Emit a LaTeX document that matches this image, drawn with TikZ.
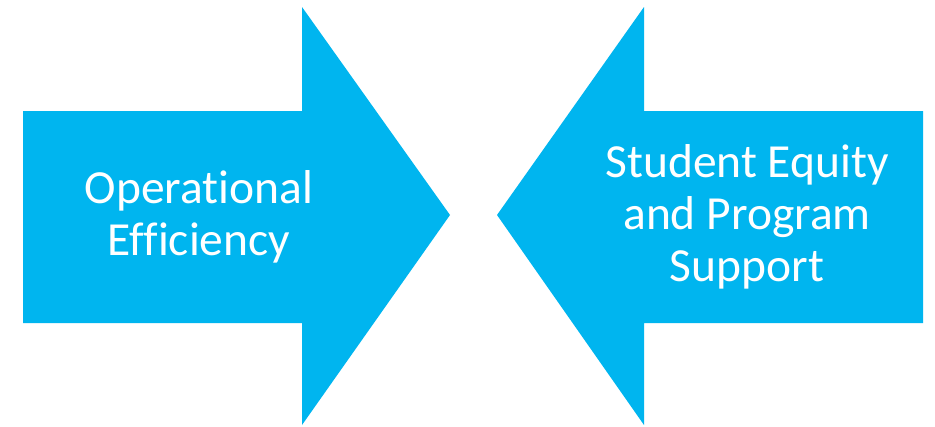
\documentclass[tikz,border=0pt]{standalone}
\usepackage{fontspec}
\setmainfont[Ligatures=CommonOff]{Carlito}
\definecolor{arrowblue}{HTML}{00B5EF}
\begin{document}
\begin{tikzpicture}[x=1pt,y=-1pt,
  arrowshape/.style={fill=arrowblue,draw=none},
  label/.style={text=white,font=\fontsize{47.5}{52}\selectfont,align=center,inner sep=0pt}]
\useasboundingbox (0,0) rectangle (935,426);
\fill[white] (0,0) rectangle (935,426);
\path[arrowshape] (23,111) -- (302,111) -- (302,7) -- (450,215) -- (302,425) -- (302,323) -- (23,323) -- cycle;
\path[arrowshape] (923,111) -- (644,111) -- (644,7) -- (497,215) -- (644,425) -- (644,323) -- (923,323) -- cycle;
\node[label] (left) at (199,217) {Operational\\Efficiency};
\node[label] (right) at (747,217) {Student Equity\\and Program\\Support};
\end{tikzpicture}
\end{document}
